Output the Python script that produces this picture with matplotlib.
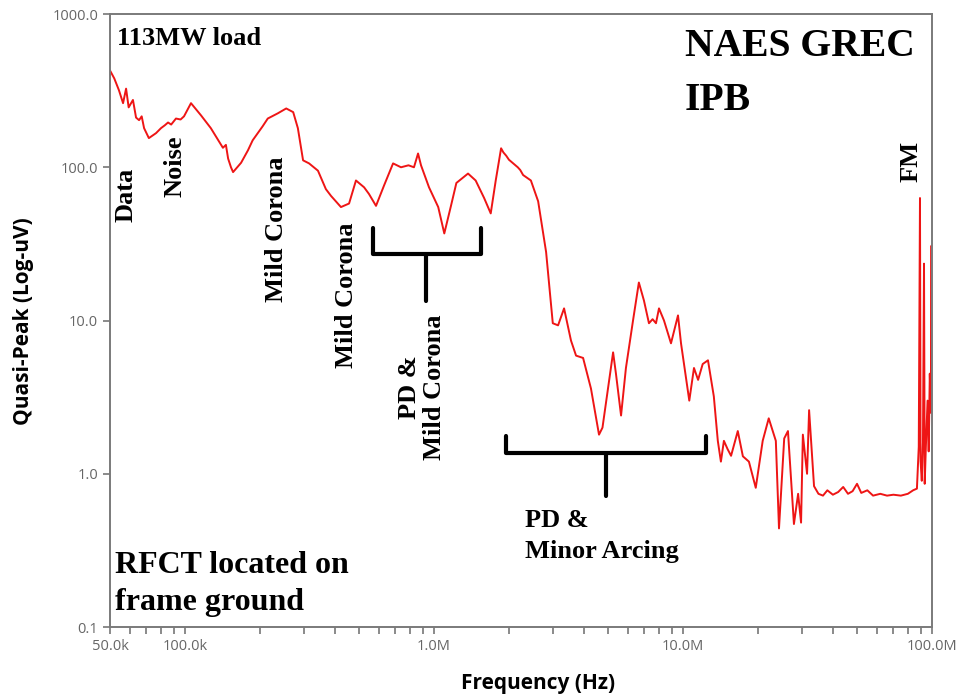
import matplotlib
matplotlib.use("Agg")
from matplotlib import pyplot as plt
from matplotlib.ticker import NullLocator

# spectrum: frequency (Hz) and quasi-peak (uV)
freq = [
    50e3, 52e3, 54.3e3, 56.4e3, 58.0e3, 59.4e3, 61.8e3, 63.6e3, 65.4e3, 67e3,
    68.5e3, 71.6e3, 76.5e3, 80.1e3, 83e3, 85.5e3, 88e3, 92.0e3, 96e3, 99.1e3,
    105.7e3, 116e3, 127e3, 142e3, 146e3, 149e3, 153e3, 156e3, 162e3, 168e3,
    179e3, 187e3, 196e3, 205e3, 215e3, 236e3, 255e3, 272e3, 284e3, 298e3,
    315e3, 342e3, 368e3, 386e3, 423e3, 456e3, 486e3, 524e3, 548e3, 585e3,
    630e3, 685e3, 737e3, 790e3, 831e3, 863e3, 887e3, 955e3, 1.04e6, 1.10e6,
    1.17e6, 1.23e6, 1.37e6, 1.47e6, 1.59e6, 1.69e6, 1.77e6, 1.86e6, 1.90e6, 1.95e6,
    2.0e6, 2.08e6, 2.17e6, 2.22e6, 2.28e6, 2.45e6, 2.62e6, 2.82e6, 3.0e6, 3.15e6,
    3.33e6, 3.55e6, 3.72e6, 3.97e6, 4.27e6, 4.60e6, 4.75e6, 5.0e6, 5.24e6, 5.38e6,
    5.64e6, 5.90e6, 6.30e6, 6.65e6, 6.97e6, 7.30e6, 7.55e6, 7.79e6, 8.01e6, 8.39e6,
    8.95e6, 9.55e6, 9.82e6, 10.6e6, 11.07e6, 11.5e6, 12.0e6, 12.6e6, 13.3e6, 13.8e6,
    14.2e6, 14.6e6, 15.1e6, 15.6e6, 16.6e6, 17.4e6, 18.4e6, 19.6e6, 20.9e6, 22.1e6,
    23.6e6, 24.3e6, 25.5e6, 26.4e6, 27.2e6, 27.9e6, 29.0e6, 29.8e6, 30.3e6, 31.5e6,
    32.1e6, 33.6e6, 35.0e6, 36.5e6, 38e6, 40e6, 42e6, 44e6, 46e6, 48e6,
    50e6, 52e6, 55e6, 58e6, 62e6, 66e6, 70e6, 75e6, 80e6, 84e6,
    87e6, 88.5e6, 89.5e6, 90e6, 91e6, 92e6, 92.9e6, 93.5e6, 94.5e6, 96e6,
    97e6, 98e6, 99e6, 99.6e6, 100e6,
]
qpeak = [
    428, 380, 318, 262, 326, 246, 275, 211, 203, 215,
    180, 155, 167, 180, 188, 196, 190, 208, 205, 215,
    262, 218, 180, 134, 140, 114, 100, 93, 100, 107,
    129, 150, 167, 185, 208, 225, 242, 229, 180, 111,
    106, 95, 72, 65, 55, 58, 82, 74, 67, 56,
    76, 106, 100, 103, 100, 123, 103, 74, 55, 37,
    56, 79, 91, 82, 63, 50, 82, 133, 125, 119,
    112, 106, 100, 96, 89, 82, 60, 28, 9.6, 9.3,
    12, 7.4, 5.9, 5.7, 3.6, 1.8, 2.0, 3.6, 6.2, 4.5,
    2.4, 4.9, 10, 17.7, 13.5, 9.6, 10.2, 9.6, 12, 10,
    7.1, 10.8, 7.1, 3.0, 4.9, 4.1, 5.2, 5.5, 3.2, 1.64,
    1.2, 1.64, 1.45, 1.31, 1.9, 1.3, 1.2, 0.81, 1.64, 2.3,
    1.64, 0.44, 1.7, 1.9, 0.9, 0.47, 0.74, 0.48, 1.8, 1.0,
    2.6, 0.83, 0.74, 0.72, 0.78, 0.73, 0.76, 0.82, 0.74, 0.77,
    0.86, 0.75, 0.78, 0.72, 0.74, 0.72, 0.73, 0.72, 0.74, 0.78,
    0.80, 1.5, 63, 1.2, 0.9, 1.6, 23.5, 0.86, 1.5, 3.0,
    1.4, 4.5, 2.5, 30.8, 3.0,
]

x_ticks = [50e3, 100e3, 1e6, 10e6, 100e6]
x_labels = ["50.0k", "100.0k", "1.0M", "10.0M", "100.0M"]
y_ticks = [0.1, 1, 10, 100, 1000]
y_labels = ["0.1", "1.0", "10.0", "100.0", "1000.0"]

serif = "Liberation Serif"
sans = "Open Sans"

fig = plt.figure(figsize=(9.61, 6.98), dpi=100)
ax = fig.add_axes([0.1145, 0.1017, 0.8553, 0.8782])

ax.plot(freq, qpeak, color="#ee1515", lw=1.4)
ax.set_xscale("log")
ax.set_yscale("log")
ax.set_xlim(50e3, 100e6)
ax.set_ylim(0.1, 1000)

ax.set_xticks(x_ticks, x_labels)
minor = [m * 10 ** e for e in (4, 5, 6, 7) for m in range(2, 10)]
minor = [v for v in minor if 50e3 < v < 100e6 and v not in x_ticks]
ax.set_xticks(minor, minor=True)
ax.set_yticks(y_ticks, y_labels)
ax.yaxis.set_minor_locator(NullLocator())
ax.tick_params(which="both", direction="out", length=5, width=1.2, color="#777777",
               labelcolor="#666666", labelsize=10.5)
for lab in ax.get_xticklabels() + ax.get_yticklabels():
    lab.set_family(sans)
for s in ax.spines.values():
    s.set_color("#7a7a7a")
    s.set_linewidth(1.4)

fig.text(0.024, 0.54, "Quasi-Peak (Log-uV)", rotation=90, ha="center", va="center",
         family=sans, fontweight="bold", fontsize=15)
fig.text(0.56, 0.021, "Frequency (Hz)", ha="center", va="center",
         family=sans, fontweight="bold", fontsize=15)

# brackets (drawn in data coordinates)
bk = dict(color="black", lw=3, solid_capstyle="round", solid_joinstyle="round")
ax.plot([569e3, 569e3, 1.545e6, 1.545e6], [40, 27, 27, 40], **bk)
ax.plot([929e3, 929e3], [27, 13.5], **bk)
ax.plot([1.945e6, 1.945e6, 12.4e6, 12.4e6], [1.77, 1.37, 1.37, 1.77], **bk)
ax.plot([4.91e6, 4.91e6], [1.37, 0.72], **bk)

tb = dict(family=serif, fontweight="bold", transform=ax.transAxes)
ax.text(0.0085, 0.979, "113MW load", fontsize=19, va="top", ha="left", **tb)
ax.text(0.6995, 0.977, "NAES GREC", fontsize=28.5, va="top", ha="left", **tb)
ax.text(0.6995, 0.889, "IPB", fontsize=28.5, va="top", ha="left", **tb)
ax.text(0.006, 0.088, "RFCT located on", fontsize=23, va="baseline", ha="left", **tb)
ax.text(0.006, 0.0277, "frame ground", fontsize=23, va="baseline", ha="left", **tb)
ax.text(0.505, 0.163, "PD &", fontsize=19, va="baseline", ha="left", **tb)
ax.text(0.505, 0.1126, "Minor Arcing", fontsize=19, va="baseline", ha="left", **tb)

rot = dict(rotation=90, ha="center", va="bottom", fontsize=19, **tb)
ax.text(0.0195, 0.661, "Data", **rot)
ax.text(0.079, 0.7015, "Noise", **rot)
ax.text(0.202, 0.530, "Mild Corona", **rot)
ax.text(0.288, 0.4225, "Mild Corona", **rot)
ax.text(0.3796, 0.2724, "PD &\nMild Corona", linespacing=1.1, **rot)
ax.text(0.9745, 0.7602, "FM", rotation=90, ha="center", va="center", fontsize=19,
        **tb)

fig.savefig("out.png", dpi=100)
